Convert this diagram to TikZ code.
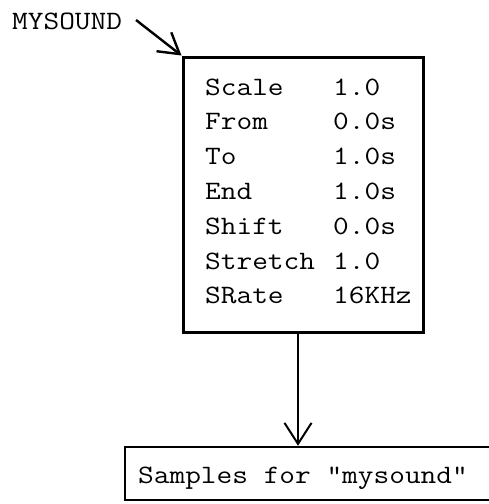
\documentclass[tikz,border=0pt]{standalone}
\usepackage{fontspec}
\setmonofont{Latin Modern Mono}[FakeStretch=1.15]
\usetikzlibrary{arrows.meta,calc}
\begin{document}
\begin{tikzpicture}[x=1pt,y=-1pt,
  txt/.style={font=\ttfamily\fontsize{26.5}{30}\selectfont, inner sep=0pt, anchor=base west},
  boxline/.style={draw=black, line width=3pt},
  arr/.style={line width=2.4pt, -{Straight Barb[length=20pt,width=24pt,line width=2.4pt]}}]
\useasboundingbox (0,0) rectangle (489,504);
% main box
\node[boxline, minimum width=240pt, minimum height=275pt, inner sep=0pt] (box) at (303,194.5) {};
% labels
\node[txt] (mysound) at (12,29) {MYSOUND};
\foreach \n/\a/\b [count=\i from 0] in {scale/Scale/1.0, from/From/0.0s, to/To/1.0s, end/End/1.0s, shift/Shift/0.0s, stretch/Stretch/1.0, srate/SRate/16KHz}{
  \node[txt] (k\n) at (205,{95+34.8*\i}) {\a};
  \node[txt] (v\n) at (333,{95+34.8*\i}) {\b};
}
% bottom box
\node[draw=black, line width=2.5pt, minimum width=372pt, minimum height=53pt, inner sep=0pt] (samples) at (311,473.5) {};
\node[txt] (stext) at (138,483) {Samples for "mysound"};
% connectors
\coordinate (mstart) at (136,20);
\draw[arr] (mstart) -- (box.north west);
\coordinate (vtop) at ($(box.south)+(-5,0)$);
\draw[line width=2pt, -{Straight Barb[length=21pt,width=27pt,line width=2pt]}] (vtop) -- (vtop |- samples.north);
\end{tikzpicture}
\end{document}
